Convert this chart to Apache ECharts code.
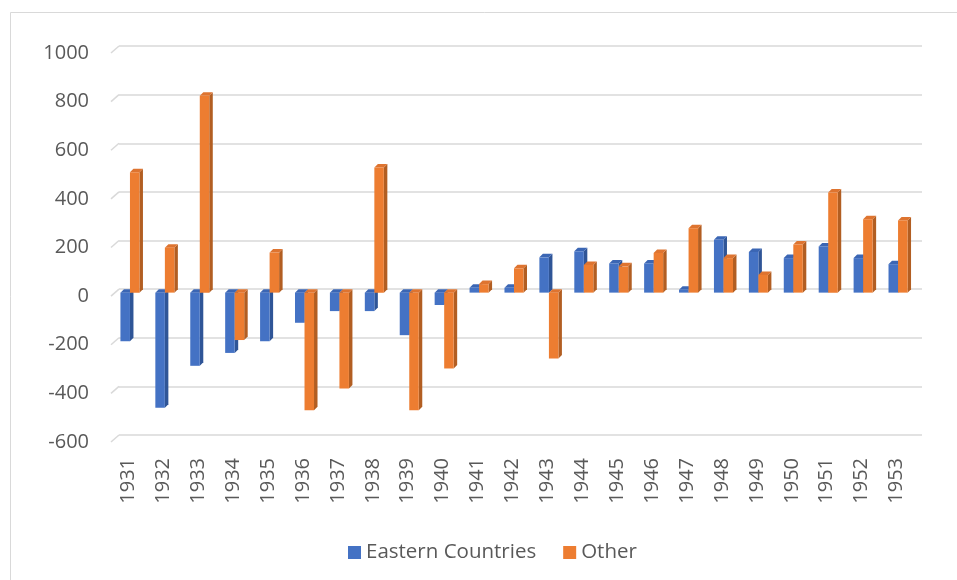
<!DOCTYPE html>
<html>
<head>
<meta charset="utf-8">
<title>Eastern Countries vs Other, 1931–1953</title>
<script src="https://cdn.jsdelivr.net/npm/echarts@6/dist/echarts.min.js"></script>
<style>
  html, body { margin: 0; padding: 0; background: #fff; }
  #chart { width: 957px; height: 580px; }
</style>
</head>
<body>
<div id="chart"></div>
<script>
// Yearly values for each group
const years = ['1931','1932','1933','1934','1935','1936','1937','1938','1939','1940','1941','1942',
               '1943','1944','1945','1946','1947','1948','1949','1950','1951','1952','1953'];
const easternCountries = [-200, -474, -301, -248, -200, -124, -76, -76, -175, -51, 20, 20,
                          145, 170, 120, 120, 12, 217, 167, 142, 190, 142, 117];
const other = [495, 185, 810, -195, 165, -484, -394, 515, -484, -312, 35, 100,
               -271, 114, 108, 163, 265, 142, 73, 198, 412, 302, 297];
const valueTicks = [-600, -400, -200, 0, 200, 400, 600, 800, 1000];

const BLUE = '#4472C4', BLUE_SIDE = '#2F5597', BLUE_TOP = '#3B66B4';
const ORANGE = '#ED7D31', ORANGE_SIDE = '#B25E22', ORANGE_TOP = '#DE7430';
const LABEL = '#595959';
const FONT = '"Open Sans", "Noto Sans", sans-serif';

// 3D-looking column: front face, right side face and top face.
function columnRenderer(startFrac, endFrac, front, side, top) {
  return function (params, api) {
    const i = api.value(0), v = api.value(1);
    const bw = api.size([1, 0])[0];
    const p0 = api.coord([i, 0]);
    const p1 = api.coord([i, v]);
    const lift = 3.5, d = 3.5;
    const x0 = p0[0] + startFrac * bw;
    const x1 = p0[0] + endFrac * bw;
    const yA = p0[1] - lift, yB = p1[1] - lift;
    const yTop = Math.min(yA, yB), yBot = Math.max(yA, yB);
    return {
      type: 'group',
      children: [
        { type: 'polygon', shape: { points: [[x1, yTop], [x1 + d, yTop - d], [x1 + d, yBot - d], [x1, yBot]] },
          style: { fill: side } },
        { type: 'polygon', shape: { points: [[x0, yTop], [x0 + d, yTop - d], [x1 + d, yTop - d], [x1, yTop]] },
          style: { fill: top } },
        { type: 'rect', shape: { x: x0, y: yTop, width: x1 - x0, height: yBot - yTop },
          style: { fill: front } }
      ]
    };
  };
}

// Short slanted stubs joining the tick positions to the back-wall gridlines
function stubRenderer(params, api) {
  const v = api.value(0);
  const bw = api.size([1, 0])[0];
  const p = api.coord([0, v]);
  const x = p[0] - bw / 2;
  return {
    type: 'line',
    shape: { x1: x, y1: p[1], x2: x + 8, y2: p[1] - 7 },
    style: { stroke: '#d9d9d9', lineWidth: 1.5 }
  };
}

const chart = echarts.init(document.getElementById('chart'));
chart.setOption({
  animation: false,
  backgroundColor: '#fff',
  graphic: [{
    type: 'rect', left: 8, top: 10, shape: { width: 1000, height: 1000 },
    style: { fill: 'none', stroke: '#d9d9d9', lineWidth: 1 }, z: -10
  }],
  legend: {
    data: ['Eastern Countries', 'Other'],
    left: 343, top: 537,
    icon: 'rect', itemWidth: 13, itemHeight: 13, itemGap: 27,
    textStyle: { color: LABEL, fontSize: 20.5, fontFamily: FONT }
  },
  grid: [
    { left: 111, right: 43, top: 53, bottom: 138 },   // front plane: labels and columns
    { left: 119, right: 35, top: 46, bottom: 145 }    // back wall: gridlines
  ],
  xAxis: [
    { type: 'category', gridIndex: 0, data: years,
      axisLine: { show: false }, axisTick: { show: false }, splitLine: { show: false },
      axisLabel: { rotate: 90, margin: 16, color: LABEL, fontSize: 20, fontFamily: FONT, interval: 0 } },
    { type: 'category', gridIndex: 1, data: years, show: false }
  ],
  yAxis: [
    { type: 'value', gridIndex: 0, min: -600, max: 1000, interval: 200,
      axisLine: { show: false }, axisTick: { show: false }, splitLine: { show: false },
      axisLabel: { margin: 22, color: LABEL, fontSize: 20, fontFamily: FONT,
                   formatter: v => String(v) } },
    { type: 'value', gridIndex: 1, min: -600, max: 1000, interval: 200,
      axisLine: { show: false }, axisTick: { show: false }, axisLabel: { show: false },
      splitLine: { show: true, lineStyle: { color: '#d9d9d9', width: 1.5 } } }
  ],
  series: [
    { type: 'custom', name: 'stubs', xAxisIndex: 0, yAxisIndex: 0, silent: true,
      data: valueTicks.map(v => [v]), encode: { y: 0 }, renderItem: stubRenderer, z: 1 },
    { type: 'custom', name: 'Eastern Countries', xAxisIndex: 0, yAxisIndex: 0,
      itemStyle: { color: BLUE },
      data: easternCountries.map((v, i) => [i, v]),
      renderItem: columnRenderer(-0.23, 0.043, BLUE, BLUE_SIDE, BLUE_TOP), z: 2 },
    { type: 'custom', name: 'Other', xAxisIndex: 0, yAxisIndex: 0,
      itemStyle: { color: ORANGE },
      data: other.map((v, i) => [i, v]),
      renderItem: columnRenderer(0.043, 0.315, ORANGE, ORANGE_SIDE, ORANGE_TOP), z: 3 }
  ]
});
</script>
</body>
</html>
